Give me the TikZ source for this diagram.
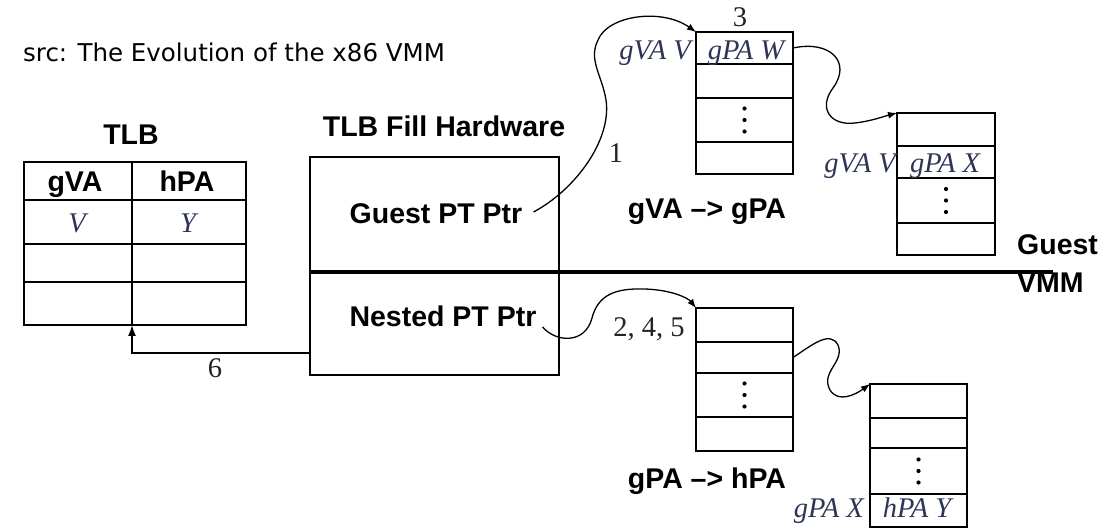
\documentclass[tikz,border=0pt]{standalone}
\usepackage{fontspec}
\setmainfont{Liberation Serif}
\setsansfont{Liberation Sans}
\newfontfamily\srcfont{DejaVu Sans}
\usetikzlibrary{arrows.meta}
\definecolor{labblue}{RGB}{45,52,85}
\definecolor{labdark}{RGB}{35,35,35}
\begin{document}
\begin{tikzpicture}[x=1pt,y=-1pt,
  cell/.style={draw, line width=1.7pt, anchor=north west, inner sep=0pt, outer sep=0pt},
  boldlab/.style={font=\sffamily\bfseries\fontsize{28.5}{30}\selectfont, inner sep=0pt, anchor=base},
  itallab/.style={font=\itshape\fontsize{28.5}{30}\selectfont, text=labblue, inner sep=0pt, anchor=base},
  numlab/.style={font=\fontsize{28.5}{30}\selectfont, text=labdark, inner sep=0pt, anchor=base},
  link/.style={line width=1.3pt, -{Latex[length=9pt,width=7pt]}},
]
\useasboundingbox (0,0) rectangle (1112,529);

% source line
\node[font=\srcfont\fontsize{24.5}{28}\selectfont, anchor=base west, inner sep=0pt] (src) at (23,62) {src: The Evolution of the x86 VMM};

% TLB
\node[boldlab] (tlbtitle) at (131,145) {TLB};
\node[cell, minimum width=108pt, minimum height=38pt] (l1) at (24,162) {};
\node[cell, minimum width=114pt, minimum height=38pt] (r1) at (132,162) {};
\node[cell, minimum width=108pt, minimum height=44pt] (l2) at (24,200) {};
\node[cell, minimum width=114pt, minimum height=44pt] (r2) at (132,200) {};
\node[cell, minimum width=108pt, minimum height=38pt] (l3) at (24,244) {};
\node[cell, minimum width=114pt, minimum height=38pt] (r3) at (132,244) {};
\node[cell, minimum width=108pt, minimum height=43pt] (l4) at (24,282) {};
\node[cell, minimum width=114pt, minimum height=43pt] (r4) at (132,282) {};
\node[boldlab] (hgva) at (75,192) {gVA};
\node[boldlab] (hhpa) at (187,192) {hPA};
\node[itallab] (tv) at (77,233) {V};
\node[itallab] (ty) at (188,233) {Y};

% TLB fill hardware
\node[boldlab] (filltitle) at (444,137) {TLB Fill Hardware};
\node[cell, minimum width=249pt, minimum height=218pt] (fill) at (310,157) {};
\node[boldlab] (gpt) at (436,224) {Guest PT Ptr};
\node[boldlab] (npt) at (443,327) {Nested PT Ptr};

% guest / VMM divider
\coordinate (divs) at (310,272);
\coordinate (dive) at (1053,272);
\draw[line width=3.6pt] (divs) -- (dive);
\node[boldlab, anchor=base west] (guest) at (1017,255) {Guest};
\node[boldlab, anchor=base west] (vmm) at (1017,293) {VMM};

% table 1 (gVA -> gPA)
\node[cell, minimum width=97pt, minimum height=32pt] (t1a) at (696,32) {};
\node[cell, minimum width=97pt, minimum height=34pt] (t1b) at (696,64) {};
\node[cell, minimum width=97pt, minimum height=44pt] (t1c) at (696,98) {};
\node[cell, minimum width=97pt, minimum height=32pt] (t1d) at (696,142) {};
\node[itallab] (t1txt) at (746,60) {gPA W};
\node[itallab, anchor=base east] (t1lab) at (691,60) {gVA V};
\node[numlab] (n3) at (740,27) {3};
\node[boldlab] (cap1) at (707,219) {gVA –> gPA};

% table 2
\node[cell, minimum width=98pt, minimum height=33pt] (t2a) at (897,113) {};
\node[cell, minimum width=98pt, minimum height=32pt] (t2b) at (897,146) {};
\node[cell, minimum width=98pt, minimum height=45pt] (t2c) at (897,178) {};
\node[cell, minimum width=98pt, minimum height=32pt] (t2d) at (897,223) {};
\node[itallab] (t2txt) at (945,173) {gPA X};
\node[itallab, anchor=base east] (t2lab) at (896,173) {gVA V};

% table 3 (gPA -> hPA)
\node[cell, minimum width=97pt, minimum height=34pt] (t3a) at (696,308) {};
\node[cell, minimum width=97pt, minimum height=31pt] (t3b) at (696,342) {};
\node[cell, minimum width=97pt, minimum height=44pt] (t3c) at (696,373) {};
\node[cell, minimum width=97pt, minimum height=34pt] (t3d) at (696,417) {};
\node[boldlab] (cap2) at (707,488) {gPA –> hPA};
\node[numlab] (n245) at (649,337) {2, 4, 5};

% table 4
\node[cell, minimum width=97pt, minimum height=34pt] (t4a) at (870,384) {};
\node[cell, minimum width=97pt, minimum height=30pt] (t4b) at (870,418) {};
\node[cell, minimum width=97pt, minimum height=46pt] (t4c) at (870,448) {};
\node[cell, minimum width=97pt, minimum height=33pt] (t4d) at (870,494) {};
\node[itallab] (t4txt) at (917,517) {hPA Y};
\node[itallab, anchor=base east] (t4lab) at (864,517) {gPA X};

% vertical dots
\foreach \c in {t1c,t2c,t3c,t4c}{
  \foreach \dy in {-11.5,0,11.5}{
    \fill ([yshift=\dy pt]\c.center) circle (2.1pt);
  }
}

% connectors
\draw[link] ([xshift=11pt,yshift=12pt]gpt.base east) .. controls (575,190) and (612,140) .. (606,100)
  .. controls (602,75) and (588,60) .. (598,40)
  .. controls (608,15) and (662,8) .. (t1a.north west);
\node[numlab] (n1) at (616,163) {1};

\draw[link] (t1a.east) .. controls (830,40) and (852,62) .. (833,88)
  .. controls (818,108) and (830,126) .. (855,123)
  .. controls (872,121) and (885,116) .. (t2a.north west);

\draw[link] ([xshift=6pt]npt.base east) .. controls (555,342) and (585,345) .. (592,318)
  .. controls (598,295) and (615,288) .. (645,289)
  .. controls (672,290) and (688,298) .. (t3a.north west);

\draw[link] (t3b.east) .. controls (812,345) and (830,330) .. (838,345)
  .. controls (845,362) and (820,372) .. (830,390)
  .. controls (838,403) and (855,395) .. (t4a.north west);

\coordinate (c6) at (310,353);
\draw[line width=1.5pt, -{Latex[length=11pt,width=8pt]}] (c6) -| (l4.south east);
\node[numlab] (n6) at (215,378) {6};
\end{tikzpicture}
\end{document}
